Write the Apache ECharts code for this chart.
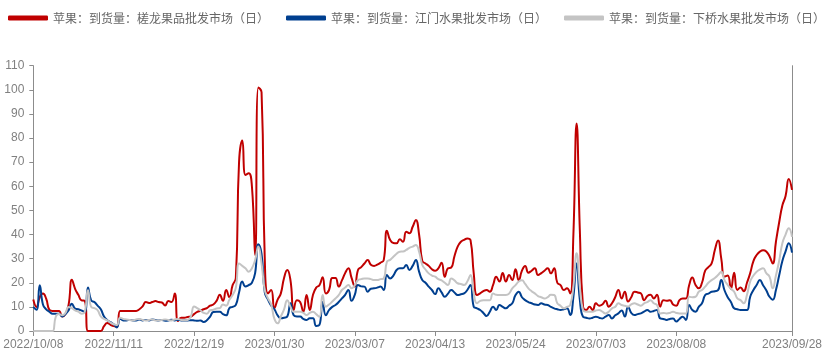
<!DOCTYPE html>
<html>
<head>
<meta charset="utf-8">
<script src="https://cdn.jsdelivr.net/npm/echarts@6/dist/echarts.min.js"></script>
<style>
html,body{margin:0;padding:0;background:#fff;}
#chart{width:833px;height:359px;}
</style>
</head>
<body>
<div id="chart"></div>
<script>
const seriesNames = ['苹果：到货量：槎龙果品批发市场（日）', '苹果：到货量：江门水果批发市场（日）', '苹果：到货量：下桥水果批发市场（日）'];

const categories = [
'2022/10/08','2022/10/10','2022/10/11','2022/10/12','2022/10/13','2022/10/14','2022/10/17','2022/10/18','2022/10/19','2022/10/20',
'2022/10/21','2022/10/24','2022/10/25','2022/10/26','2022/10/27','2022/10/28','2022/10/31','2022/11/01','2022/11/02','2022/11/03',
'2022/11/04','2022/11/07','2022/11/08','2022/11/09','2022/11/10','2022/11/11',
'2022/11/14','2022/11/15','2022/11/16','2022/11/17','2022/11/18','2022/11/21','2022/11/22','2022/11/23','2022/11/24','2022/11/28',
'2022/11/29','2022/11/30','2022/12/01','2022/12/02','2022/12/05','2022/12/06','2022/12/07','2022/12/08','2022/12/09','2022/12/12',
'2022/12/13','2022/12/14','2022/12/15','2022/12/16','2022/12/19',
'2022/12/20','2022/12/21','2022/12/22','2022/12/23','2022/12/26','2022/12/27','2022/12/28','2022/12/29','2022/12/30','2023/01/03',
'2023/01/04','2023/01/05','2023/01/06','2023/01/09','2023/01/10','2023/01/11','2023/01/12','2023/01/13','2023/01/16','2023/01/17',
'2023/01/18','2023/01/19','2023/01/20','2023/01/28','2023/01/30',
'2023/01/31','2023/02/01','2023/02/02','2023/02/03','2023/02/06','2023/02/07','2023/02/08','2023/02/09','2023/02/10','2023/02/13',
'2023/02/14','2023/02/15','2023/02/16','2023/02/17','2023/02/20','2023/02/21','2023/02/22','2023/02/23','2023/02/27','2023/02/28',
'2023/03/01','2023/03/02','2023/03/03','2023/03/06','2023/03/07',
'2023/03/08','2023/03/09','2023/03/10','2023/03/13','2023/03/14','2023/03/15','2023/03/16','2023/03/17','2023/03/20','2023/03/21',
'2023/03/22','2023/03/23','2023/03/24','2023/03/27','2023/03/28','2023/03/29','2023/03/30','2023/03/31','2023/04/03','2023/04/04',
'2023/04/06','2023/04/10','2023/04/11','2023/04/12','2023/04/13',
'2023/04/14','2023/04/17','2023/04/18','2023/04/19','2023/04/20','2023/04/21','2023/04/24','2023/04/25','2023/04/26','2023/04/27',
'2023/05/04','2023/05/05','2023/05/08','2023/05/09','2023/05/10','2023/05/11','2023/05/12','2023/05/15','2023/05/16','2023/05/17',
'2023/05/18','2023/05/19','2023/05/22','2023/05/23','2023/05/24',
'2023/05/25','2023/05/26','2023/05/29','2023/05/30','2023/05/31','2023/06/01','2023/06/02','2023/06/05','2023/06/06','2023/06/07',
'2023/06/08','2023/06/09','2023/06/12','2023/06/13','2023/06/14','2023/06/15','2023/06/16','2023/06/19','2023/06/20','2023/06/21',
'2023/06/26','2023/06/27','2023/06/28','2023/06/29','2023/07/03',
'2023/07/04','2023/07/05','2023/07/06','2023/07/07','2023/07/10','2023/07/11','2023/07/12','2023/07/13','2023/07/14','2023/07/17',
'2023/07/18','2023/07/19','2023/07/20','2023/07/21','2023/07/24','2023/07/25','2023/07/26','2023/07/27','2023/07/31','2023/08/01',
'2023/08/02','2023/08/03','2023/08/04','2023/08/07','2023/08/08',
'2023/08/09','2023/08/10','2023/08/11','2023/08/14','2023/08/15','2023/08/16','2023/08/17','2023/08/18','2023/08/21','2023/08/22',
'2023/08/23','2023/08/24','2023/08/25','2023/08/28','2023/08/29','2023/08/30','2023/08/31','2023/09/04','2023/09/05','2023/09/06',
'2023/09/07','2023/09/08','2023/09/11','2023/09/12','2023/09/13','2023/09/14','2023/09/15','2023/09/18','2023/09/19','2023/09/20',
'2023/09/21','2023/09/22','2023/09/25','2023/09/26','2023/09/27','2023/09/28'
];

const chalong = [
13.1,10,14,15.5,13.4,8.8,8.3,8.3,8.3,6,
7,11,21.3,17.5,15,12.7,12.5,0,0,0,
0,0,2,3.3,2.6,2,1.7,8.3,8.3,8.3,
8.3,8.3,8.3,9,10.2,12,11.6,12,12.4,12,
11.8,10.6,12.4,12,15.5,4.1,5.5,5.5,5.8,6,
7,7.9,8.4,9,9.5,10.5,11,12.5,15,12.5,
17,14,19,22,70,79,64.7,65.4,60,31.5,
101,99,30,15.6,17,9.5,13,15.6,22,25.3,
21,8.7,12.8,12,8,14.9,8.7,15,18,19,
22.3,15.6,17,22,22,18.4,21,24,26,22,
18.5,25.3,26.5,28,29.4,27.5,27,27.5,28.3,29.4,
41.6,37.7,36.5,36.4,38,37,41.2,40.5,43.2,46,
40,29,28,27,25.6,25,26,28.3,22.5,26,
26.3,31,35,37,37.8,38.4,37.7,23.9,14.9,15.6,
16.5,17,16.3,19,22.5,20.5,24,20.5,23.2,21.1,
25.6,21,25,27,24.2,25,26,23.2,24,25,
26,23.9,26,20,19,17,17.7,15.6,40,86,
42,10,8.7,10.1,8.7,11.5,10.5,11,12.5,10.1,
11.5,14,17,13.5,16.3,12.2,14,16.3,16,15.6,
12.8,14.5,15,13.5,15,10.1,12.8,12.5,12.8,11,
10.5,12.8,13.5,13.5,19,22.2,19.1,17.7,20,25,
26.5,28,33.6,37.5,30,22.5,23,17.5,24.2,17,
18,16.5,20,24,29,31.5,32.9,33.5,33,31,
28,37,45,52,56,63,58.5
];

const jiangmen = [
10,8.8,19,11,9,8,7.2,7.2,7.2,6,
7,8.6,11.3,9.3,9,8.5,7.9,18,12.7,12,
10.5,9,6,4.5,3.7,2.8,1.5,5.1,4.4,4.4,
4.6,4.4,4.4,4.8,4.4,4.6,4.4,4.8,4.6,4.4,
4.6,4.3,4.4,4.7,4.4,4.6,4.4,4.4,4.4,4.5,
4.4,4.2,4.4,3.7,4.5,6,7.9,8,8,7,
6.5,9.5,10,10.8,16,20.5,18.4,19,20,24,
36,32,16,13,10.5,9,6.5,5.3,5.5,6,
11.5,6.5,6,6,5,4.6,5.3,5.3,2.1,2.5,
12,6.5,8.7,10,10.8,12,13.5,15,17,12.5,
15,19.1,18.5,18.4,16.3,17.5,17.7,18,18.4,17,
23.2,21.8,23,25.3,26,26,27.4,25.3,27,29.4,
24.6,21.1,20,18.4,17,15.3,17.7,16,14.2,15.5,
17,16,14.9,15.2,15.6,17,19.1,10.1,9.4,8.7,
7.5,6.2,8,10.1,8.7,10.8,10,9.4,10.5,11.5,
14.9,16.3,14,12.8,12,11.5,11,10.8,11.5,11,
10.8,10,9.4,9,8.7,9,9.4,6.6,14.2,28,
13,5.9,5.5,5.2,5.5,5.9,5.5,5.2,6,6.6,
5.2,6.5,7.3,8.5,6,10.1,7.5,6.6,7,7.3,
8,8.7,8,8.3,8.7,5.2,5,4.6,5,5.2,
3.9,5,5.9,4.6,10.8,8.7,8,10,11.5,14.9,
15.5,16.3,16.5,16.9,21.1,16.9,14,12,9.4,9,
8.7,8.7,8.7,14.2,17,19.1,21.1,19,16.9,14.2,
13,17,23,29,33,36.4,32.5
];

const xiaqiao = [
0,0,0,0,0,0,0,6,7,6.5,
7.5,10,9.5,8.6,8,7.2,7.9,16.9,10,9.5,
8.6,6,5,4.4,3.5,2.8,2.5,5.5,5,4.8,
4.6,4.4,4.8,5,4.6,4.4,4.6,4.8,4.4,4.4,
4.6,4.8,4.6,4.4,4.8,5,4.6,4.5,4.6,6,
10.2,9.5,8.6,7.5,7.2,8.6,8.8,9.3,9.5,11,
10.5,13,14.9,18,28,27,26,24.6,26,29.4,
35,28,17,13.5,11,5,3.2,6,9,12.8,
10,8,8,8,7.5,6.6,7.5,8,7,5.9,
14.9,10.1,11,12.2,13.5,14.9,17,18,19.1,17.7,
19,21.1,21.5,21.8,21.8,21.5,21.1,21.1,21.5,21.8,
28.7,29.5,30.8,32,32.9,33,33.6,34.5,35,35.7,
32.9,27.4,25.5,23.9,23,22.5,21.5,21,20,19.1,
21.8,21,19.8,19.5,19.1,20.5,23.2,15.6,11.5,12.5,
12.8,12.8,12.8,15.6,15,14.9,14.9,14.9,15.5,17.7,
19,20.5,21,19.5,17.7,16.5,15.6,14.5,14,13.5,
14,15,14.9,11.5,10.5,9.4,10,10.8,18.4,32.2,
18.4,8.7,8,8,8,8.5,8.7,8,7.3,8,
9.4,10,11.5,10.8,10.5,10.1,11,11.5,11,10.5,
11.5,12,12.8,11.5,10.8,7.3,7.5,7.3,7.5,8,
7.5,7.3,7.3,7.3,14.2,14,14.2,16.3,17,18.4,
20,21.1,22,23.2,24.6,21.1,19.1,17.5,16.3,13.5,
12.8,11.5,15,20.5,23,24.6,25.5,26,24,22.5,
17.7,23,29,36.4,40,42.6,39
];

const yTicks = { min: 0, max: 110, interval: 10 };
const colors = ['#C00000', '#003F8F', '#C4C4C4'];

const chart = echarts.init(document.getElementById('chart'), null, { renderer: 'canvas' });
const axisGray = '#8c8c8c';
const labelGray = '#808080';
const font = '"Noto Sans CJK SC", "Liberation Sans", sans-serif';

function makeSeries(name, data, color) {
  return {
    name: name,
    type: 'line',
    data: data,
    smooth: true,
    showSymbol: false,
    symbol: 'none',
    lineStyle: { width: 2, color: color },
    itemStyle: { color: color }
  };
}

chart.setOption({
  animation: false,
  color: colors,
  textStyle: { fontFamily: font },
  legend: {
    top: 7,
    left: 'center',
    itemWidth: 40,
    itemHeight: 5,
    itemGap: 17,
    icon: 'roundRect',
    textStyle: { fontSize: 12, color: '#666666', fontFamily: font },
    data: seriesNames
  },
  grid: { left: 33.3, right: 41, top: 65.7, bottom: 28, containLabel: false },
  xAxis: {
    type: 'category',
    data: categories,
    boundaryGap: false,
    axisLine: { show: true, lineStyle: { color: axisGray } },
    axisTick: { show: true, interval: 24, length: 5, lineStyle: { color: axisGray } },
    axisLabel: { interval: 24, showMaxLabel: true, color: labelGray, fontSize: 12, margin: 8, fontFamily: 'Liberation Sans, Arial, sans-serif' },
    splitLine: { show: false }
  },
  yAxis: [
    {
      type: 'value',
      min: yTicks.min, max: yTicks.max, interval: yTicks.interval,
      axisLine: { show: true, lineStyle: { color: axisGray } },
      axisTick: { show: true, length: 4, lineStyle: { color: axisGray } },
      axisLabel: { color: labelGray, fontSize: 12, margin: 9, fontFamily: 'Liberation Sans, Arial, sans-serif' },
      splitLine: { show: false }
    },
    {
      type: 'value', position: 'right',
      min: yTicks.min, max: yTicks.max, interval: yTicks.interval,
      axisLine: { show: true, lineStyle: { color: axisGray } },
      axisTick: { show: false },
      axisLabel: { show: false },
      splitLine: { show: false }
    }
  ],
  series: [
    makeSeries(seriesNames[0], chalong, colors[0]),
    makeSeries(seriesNames[1], jiangmen, colors[1]),
    makeSeries(seriesNames[2], xiaqiao, colors[2])
  ]
});
</script>
</body>
</html>
